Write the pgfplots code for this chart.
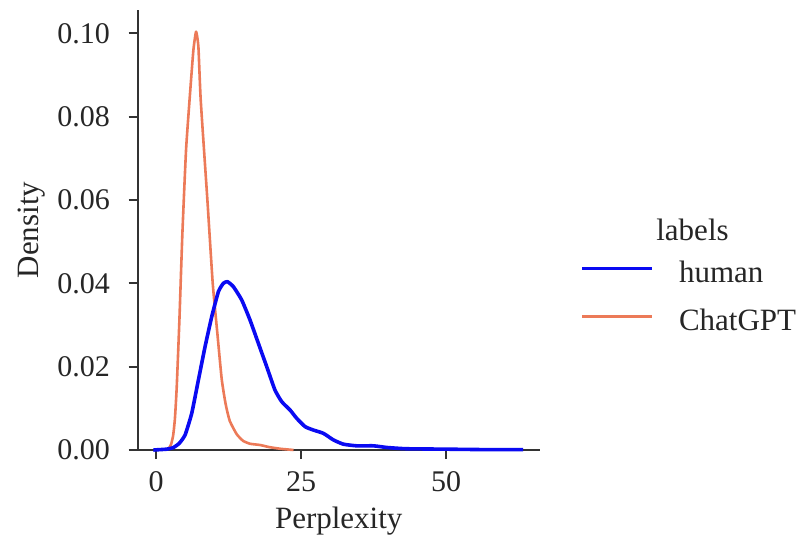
\documentclass[border=0pt]{standalone}
\usepackage{fontspec}
\setmainfont{Liberation Serif}
\usepackage{pgfplots}
\pgfplotsset{compat=1.18}
\definecolor{humanblue}{HTML}{0A0AF2}
\definecolor{gptorange}{HTML}{EC7A58}
\definecolor{axisgray}{HTML}{333333}

\begin{document}
\fontsize{15.5bp}{18bp}\selectfont
\begin{tikzpicture}
\path[use as bounding box] (0,0) rectangle (402.5bp,272bp);
\begin{axis}[
  at={(68.75bp,47bp)}, anchor=south west,
  scale only axis, width=201.25bp, height=220bp,
  xmin=-3.2, xmax=66.2, ymin=0, ymax=0.1056,
  axis x line*=bottom, axis y line*=left,
  axis line style={line width=1bp, color=axisgray},
  xtick={0,25,50},
  ytick={0,0.02,0.04,0.06,0.08,0.1},
  tick align=outside, major tick length=4.5bp,
  tick style={line width=1bp, color=axisgray},
  /pgf/number format/assume math mode=true,
  ticklabel style={font=\fontsize{15bp}{18bp}\selectfont, text=black!85},
  xticklabel style={yshift=-1bp},
  yticklabel style={xshift=-4bp, /pgf/number format/.cd, fixed, fixed zerofill, precision=2},
  xlabel={Perplexity}, ylabel={Density},
  label style={font=\fontsize{15.5bp}{18bp}\selectfont, text=black!85},
  xlabel style={at={(axis description cs:0.5,-0.162)}, anchor=center},
  ylabel style={at={(axis description cs:-0.262,0.5)}, anchor=center},
  legend style={at={(axis description cs:1.0994,0.4318)}, anchor=north west,
    draw=none, fill=none, inner sep=0pt, column sep=12.5bp, row sep=9bp,
    nodes={inner sep=0pt, text height=11bp, text depth=4bp, anchor=west},
    font=\fontsize{15.5bp}{18bp}\selectfont, text=black!85},
  legend cell align=left,
  legend image code/.code={\draw[#1] (0bp,3.5bp) -- (35bp,3.5bp);},
  clip=false,
]
\addlegendimage{humanblue, line width=1.8bp}
\addlegendentry{human}
\addlegendimage{gptorange, line width=1.3bp}
\addlegendentry{ChatGPT}

% ChatGPT
\addplot[gptorange, line width=1.3bp, line join=round, smooth, tension=0.3, forget plot] coordinates {
  (1.6,0) (2.2,0.0004) (2.6,0.0014) (2.95,0.0035) (3.25,0.0075) (3.56,0.015)
  (4.02,0.031) (4.54,0.052)
  (5.17,0.072) (5.86,0.0856) (6.44,0.096) (6.9,0.1004) (7.30,0.0968)
  (7.70,0.084) (8.85,0.060) (9.77,0.040) (10.57,0.028) (11.32,0.017)
  (12.0,0.011) (12.7,0.007) (13.9,0.0038) (15.0,0.0022) (16.2,0.0015) (17.93,0.0012)
  (19.5,0.0007) (21.4,0.0003) (23.7,0)
};
% human
\addplot[humanblue, line width=1.8bp, line join=round, smooth, tension=0.3, forget plot] coordinates {
  (-0.46,0) (1.84,0.0002) (3.0,0.0006) (4.0,0.0016) (5.0,0.0036) (6.15,0.0088) (7.30,0.0168)
  (8.45,0.0248) (9.6,0.032) (10.75,0.038) (11.6,0.040) (12.3,0.0404)
  (13.33,0.0392) (14.77,0.036) (16.2,0.0312) (17.64,0.0256) (19.08,0.020)
  (20.5,0.0144) (21.67,0.0116) (23.1,0.0096) (24.25,0.0076) (25.7,0.0056)
  (27.1,0.0048) (28.85,0.004) (30.6,0.0024) (32.3,0.0014) (34.6,0.001)
  (37.5,0.001) (39.8,0.0006) (43.2,0.0003) (50.1,0.0002) (56.4,0.0001) (63.3,0.0001)
};
\end{axis}
\node[text=black!85] at (346.25bp,157bp) {labels};
\end{tikzpicture}
\end{document}
